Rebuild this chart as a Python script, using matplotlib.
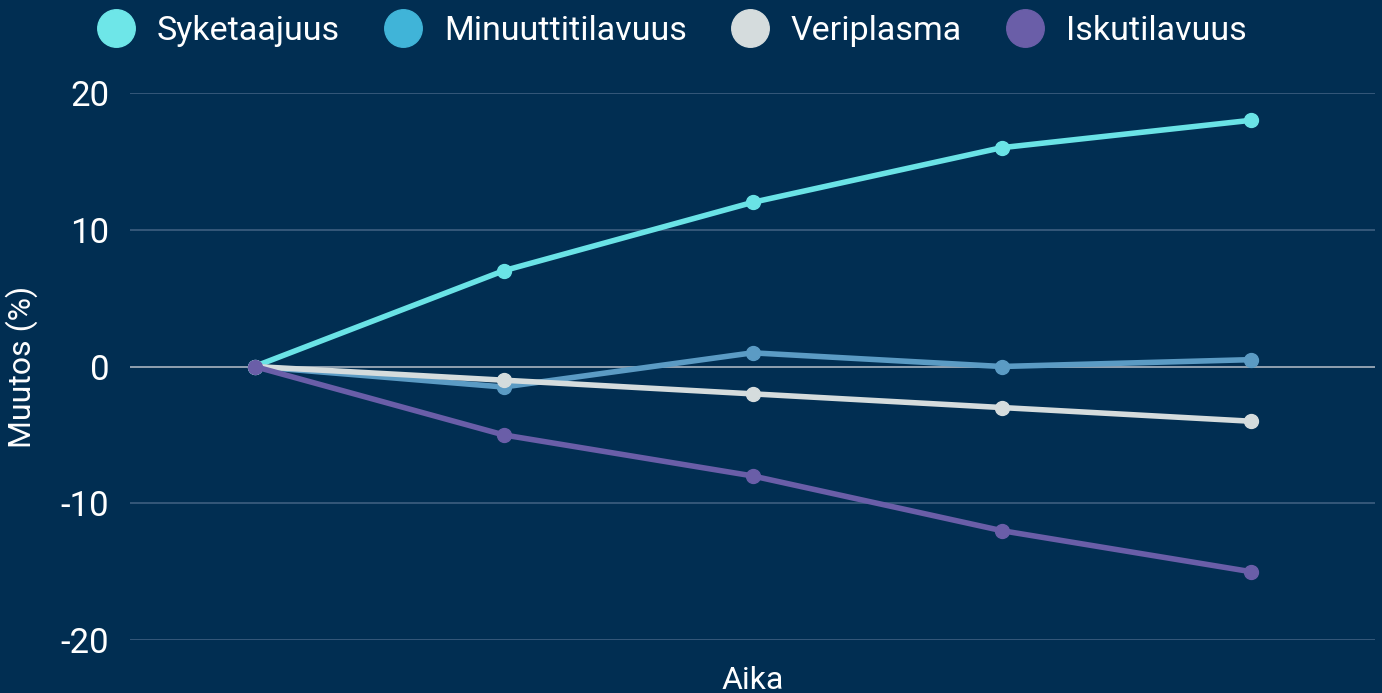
import matplotlib.pyplot as plt
import numpy as np

# data
steps = [0, 1, 2, 3, 4]
series_names = ["Syketaajuus", "Minuuttitilavuus", "Veriplasma", "Iskutilavuus"]
syke = [0, 7, 12, 16, 18]
minuutti = [0, -1.5, 1, 0, 0.5]
veriplasma = [0, -1, -2, -3, -4]
isku = [0, -5, -8, -12, -15]
y_ticks = [-20, -10, 0, 10, 20]

bg = "#012e52"
line_colors = ["#6ae3e6", "#5b9bc4", "#d5dcdd", "#6a5ea8"]
legend_colors = ["#6ee6e8", "#40b4d8", "#d5dcdd", "#6a5ea8"]

plt.rcParams['font.family'] = ['Roboto', 'DejaVu Sans']
plt.rcParams['axes.unicode_minus'] = False

fig = plt.figure(figsize=(13.82, 6.93), dpi=100, facecolor=bg)
ax = fig.add_axes([130 / 1382, 53 / 693, 1245 / 1382, 547 / 693], facecolor=bg)

for vals, c in zip([syke, minuutti, veriplasma, isku], line_colors):
    ax.plot(steps, vals, color=c, lw=4, marker='o', ms=10, solid_capstyle='round', zorder=3)

ax.set_xlim(-0.5, 4.5)
ax.set_ylim(-20, 20)
ax.set_yticks(y_ticks)
ax.set_xticks([])
for t in y_ticks:
    if t == 0:
        ax.axhline(t, color="#a9b4c0", lw=1.2, zorder=1)
    else:
        ax.axhline(t, color="#3e5f80", lw=1.2, zorder=1)
for s in ax.spines.values():
    s.set_visible(False)
ax.tick_params(axis='y', length=0, pad=15, labelcolor='white', labelsize=25)
ax.set_ylabel("Muutos (%)", color='white', fontsize=23)
ax.yaxis.set_label_coords(-0.074, 0.5)
ax.set_xlabel("Aika", color='white', fontsize=23, labelpad=19)

handles = [plt.Line2D([], [], ls='none', marker='o', ms=27, color=c) for c in legend_colors]
leg = fig.legend(handles, series_names, loc='upper center', bbox_to_anchor=(0.485, 1.022), ncol=4,
                 frameon=False, fontsize=24.5, labelcolor='white', handletextpad=0.55,
                 columnspacing=1.2, handlelength=1.3)

fig.savefig("out.png", dpi=100, facecolor=bg)
